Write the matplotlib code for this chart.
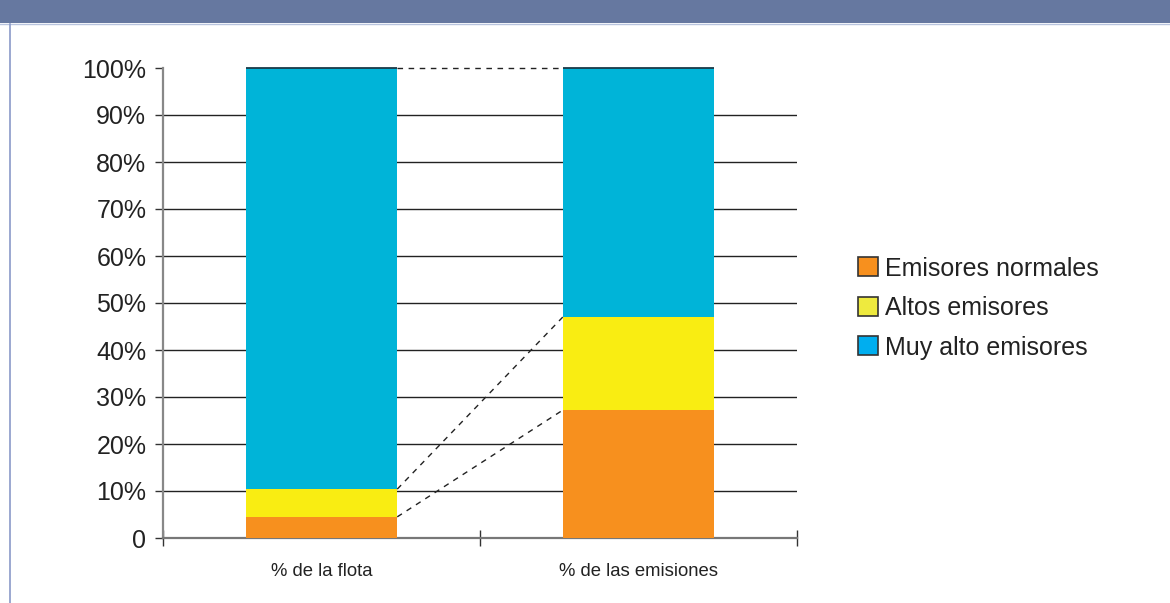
import matplotlib
matplotlib.use("Agg")
import matplotlib.pyplot as plt
from matplotlib.patches import Rectangle, Patch
from matplotlib.lines import Line2D
import numpy as np

plt.rcParams['font.family'] = ['Liberation Sans', 'DejaVu Sans']

categorias = ['% de la flota', '% de las emisiones']
series = ['Emisores normales', 'Altos emisores', 'Muy alto emisores']
normales = [4.5, 27.2]
altos = [5.9, 19.8]
muy_altos = [89.6, 53.0]
colores = ['#F7901E', '#F9ED12', '#00B4D8']
colores_leyenda = ['#F7901E', '#EEEA3E', '#00AEEF']
yticks = [0, 10, 20, 30, 40, 50, 60, 70, 80, 90, 100]
yticklabels = ['0'] + [f'{v}%' for v in yticks[1:]]

fig = plt.figure(figsize=(11.70, 6.03), dpi=100)
ax = fig.add_axes([163 / 1170, 65 / 603, 634 / 1170, 470 / 603])

x = np.arange(len(categorias))
ancho = 0.478
valores = [normales, altos, muy_altos]
base = np.zeros(len(categorias))
tops = []
for vals, col in zip(valores, colores):
    ax.bar(x, vals, ancho, bottom=base, color=col, zorder=3, linewidth=0)
    base = base + np.array(vals)
    tops.append(base.copy())

# linea oscura en la parte superior de las barras
for xi, t in zip(x, tops[-1]):
    ax.plot([xi - ancho / 2, xi + ancho / 2], [t, t], color='#1a3a48', lw=1.3,
            zorder=4, clip_on=False, solid_capstyle='butt')

# lineas de series (discontinuas)
for t in tops:
    ax.plot([x[0] + ancho / 2, x[1] - ancho / 2], [t[0], t[1]], color='#222222',
            lw=1, ls=(0, (4, 4)), zorder=4, clip_on=False)

ax.set_xlim(-0.5, 1.5)
ax.set_ylim(0, 100)
for v in yticks[1:-1]:
    ax.axhline(v, color='#222222', lw=1, zorder=1)

ax.set_yticks(yticks)
ax.set_yticklabels(yticklabels, fontsize=18, color='#222222')
ax.tick_params(axis='y', length=6, width=1, color='#333333', pad=6)

ax.set_xticks([-0.5, 0.5, 1.5])
ax.set_xticklabels(['', '', ''])
ax.tick_params(axis='x', which='major', direction='inout', length=12, width=1, color='#333333')
ax.set_xticks(x, minor=True)
ax.set_xticklabels(categorias, minor=True, fontsize=13.3, color='#222222')
ax.tick_params(axis='x', which='minor', length=0, pad=18)

for s in ['top', 'right']:
    ax.spines[s].set_visible(False)
ax.spines['bottom'].set_color('#777777')
ax.spines['bottom'].set_linewidth(1.6)
ax.spines['left'].set_color('#888888')
ax.spines['left'].set_linewidth(1.6)
ax.spines['left'].set_bounds(0, 100)

handles = [Patch(facecolor=c, edgecolor='#333333', linewidth=1.2) for c in colores_leyenda]
fig.legend(handles, series, loc='center left', bbox_to_anchor=(858 / 1170, 1 - 308 / 603),
           frameon=False, fontsize=18, handlelength=0.8, handleheight=0.8,
           handletextpad=0.3, labelspacing=0.62, borderpad=0, borderaxespad=0,
           labelcolor='#222222')

# barra de cabecera y borde izquierdo
fig.patches.append(Rectangle((0, 1 - 23 / 603), 1, 23 / 603, transform=fig.transFigure,
                             facecolor='#6678A0', edgecolor='none', zorder=0))
fig.lines.append(Line2D([0, 1], [1 - 23.5 / 603, 1 - 23.5 / 603], transform=fig.transFigure,
                        color='#B8C4DE', lw=1))
fig.lines.append(Line2D([9.5 / 1170, 9.5 / 1170], [0, 1 - 24 / 603],
                        transform=fig.transFigure, color='#8A9AC8', lw=1.2))

fig.savefig('out.png', dpi=100)
